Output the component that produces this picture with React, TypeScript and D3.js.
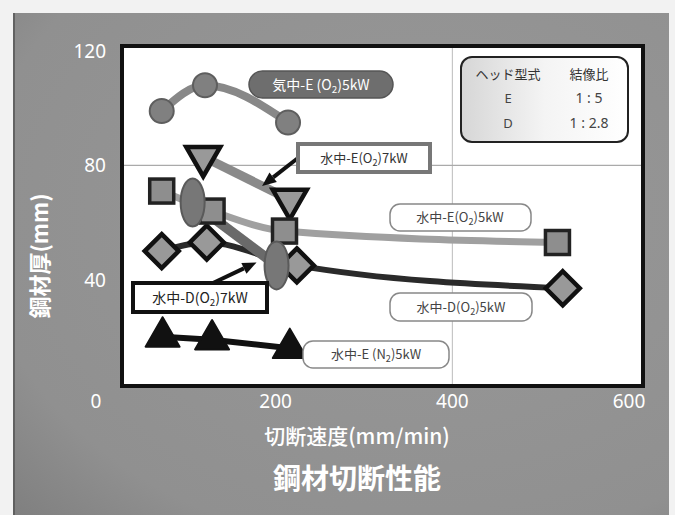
import React from "react";
import * as d3 from "d3";

// Cutting speed (mm/min) vs. steel thickness (mm) for each head / gas / power setting
const airE_O2_5kW: [number, number][] = [[71, 99], [120, 108], [214, 95]];
const waterE_O2_7kW: [number, number][] = [[118, 83], [216, 68]];
const waterE_O2_5kW: [number, number][] = [[71, 71], [128, 64], [210, 57], [519, 53]];
const waterD_O2_7kW: [number, number][] = [[106, 67], [201, 45]];
const waterD_O2_5kW: [number, number][] = [[71, 50], [122, 53], [224, 45], [525, 37]];
const waterE_N2_5kW: [number, number][] = [[72, 20], [128, 19], [216, 16]];

// the shared origin "0" is drawn once, with the y ticks
const xTicks = [200, 400, 600];
const yTicks = [0, 40, 80, 120];

const headTypes = ["E", "D"];
const imageRatios = ["1 : 5", "1 : 2.8"];

const W = 675;
const H = 515;

const x = d3.scaleLinear().domain([0, 600]).range([99, 629]);
const y = d3.scaleLinear().domain([0, 120]).range([394, 51]);

const JP = "'Noto Sans CJK JP', 'Noto Sans', sans-serif";
const SANS = "'Noto Sans', 'DejaVu Sans', sans-serif";

const curved = d3
  .line<[number, number]>()
  .x((d) => x(d[0]))
  .y((d) => y(d[1]))
  .curve(d3.curveMonotoneX);
const straight = d3
  .line<[number, number]>()
  .x((d) => x(d[0]))
  .y((d) => y(d[1]));

function Sub({ children }: { children: React.ReactNode }) {
  return (
    <tspan fontSize="0.7em" dy="3">
      {children}
    </tspan>
  );
}

// label text like 水中-E(O2)7kW with a subscript digit
function GasLabel({ head, gas, power, medium }: { head: string; gas: string; power: string; medium: string }) {
  return (
    <>
      {medium}-{head}({gas}
      <Sub>2</Sub>
      <tspan dy="-3">){power}</tspan>
    </>
  );
}

function Arrow({ x1, y1, x2, y2, w = 4 }: { x1: number; y1: number; x2: number; y2: number; w?: number }) {
  const ang = Math.atan2(y2 - y1, x2 - x1);
  const hl = 14;
  const hw = 6;
  const bx = x2 - hl * Math.cos(ang);
  const by = y2 - hl * Math.sin(ang);
  const px = -Math.sin(ang);
  const py = Math.cos(ang);
  return (
    <g>
      <line x1={x1} y1={y1} x2={bx} y2={by} stroke="#111" strokeWidth={w} />
      <polygon
        points={`${x2},${y2} ${bx + px * hw},${by + py * hw} ${bx - px * hw},${by - py * hw}`}
        fill="#111"
      />
    </g>
  );
}

export default function App() {
  const invTri = (cx: number, cy: number, s = 34) => {
    const h = s * 0.866;
    return `M${cx - s / 2},${cy - h / 3}L${cx + s / 2},${cy - h / 3}L${cx},${cy + (2 * h) / 3}Z`;
  };
  const upTri = (cx: number, cy: number, s = 34) => {
    const h = s * 0.866;
    return `M${cx - s / 2},${cy + h / 3}L${cx + s / 2},${cy + h / 3}L${cx},${cy - (2 * h) / 3}Z`;
  };
  const diamond = (cx: number, cy: number, r = 17) =>
    `M${cx},${cy - r}L${cx + r},${cy}L${cx},${cy + r}L${cx - r},${cy}Z`;

  // arrow targets derived from the series
  const tA = waterE_O2_7kW[0];
  const tB = waterE_O2_7kW[1];
  const arrow1End: [number, number] = [
    x(tA[0]) + 0.68 * (x(tB[0]) - x(tA[0])),
    y(tA[1]) + 0.68 * (y(tB[1]) - y(tA[1])),
  ];
  const e2 = waterD_O2_7kW[1];
  const arrow2End: [number, number] = [x(e2[0]) - 20, y(e2[1]) - 3];

  return (
    <svg
      width={W}
      height={H}
      style={{ position: "absolute", left: 0, top: 0, display: "block" }}
      xmlns="http://www.w3.org/2000/svg"
    >
      <defs>
        <radialGradient id="slide" cx="0.62" cy="0.4" r="0.9">
          <stop offset="0" stopColor="#989898" />
          <stop offset="0.75" stopColor="#909090" />
          <stop offset="1" stopColor="#7c7c7c" />
        </radialGradient>
        <linearGradient id="legendFill" x1="0" x2="1" y1="0" y2="0">
          <stop offset="0" stopColor="#d6d6d6" />
          <stop offset="0.5" stopColor="#f4f4f4" />
          <stop offset="1" stopColor="#fff" />
        </linearGradient>
      </defs>

      {/* page and slide background */}
      <rect x={0} y={0} width={W} height={H} fill="#f2f2f2" />
      <rect x={13} y={13} width={656} height={H - 13} fill="url(#slide)" />
      <line x1={14} y1={13} x2={14} y2={H} stroke="#555" strokeWidth={1.5} />

      {/* plot frame */}
      <rect x={122} y={46} width={521} height={340} fill="#fff" stroke="#111" strokeWidth={4} />
      {/* grid */}
      <line x1={x(400)} x2={x(400)} y1={48} y2={384} stroke="#bbb" strokeWidth={1} />
      <line x1={124} x2={641} y1={y(80)} y2={y(80)} stroke="#aaa" strokeWidth={1.2} />

      {/* tick labels */}
      {yTicks.map((t) => (
        <text
          key={"y" + t}
          x={t === 0 ? 96 : 106}
          y={t === 0 ? 401 : y(t)}
          dy="0.36em"
          textAnchor={t === 0 ? "middle" : "end"}
          fill="#fff"
          fontFamily={SANS}
          fontSize={19}
        >
          {t}
        </text>
      ))}
      {xTicks.map((t) => (
        <text
          key={"x" + t}
          x={x(t)}
          y={401}
          dy="0.36em"
          textAnchor="middle"
          fill="#fff"
          fontFamily={SANS}
          fontSize={19}
        >
          {t}
        </text>
      ))}

      {/* axis titles */}
      <text
        transform="translate(40,256) rotate(-90)"
        textAnchor="middle"
        dy="0.36em"
        fill="#fff"
        fontFamily={JP}
        fontWeight={700}
        fontSize={22}
      >
        鋼材厚(mm)
      </text>
      <text x={357} y={436} dy="0.36em" textAnchor="middle" fill="#fff" fontFamily={JP} fontWeight={500} fontSize={21}>
        切断速度(mm/min)
      </text>
      <text x={357} y={479} dy="0.36em" textAnchor="middle" fill="#fff" fontFamily={JP} fontWeight={700} fontSize={28}>
        鋼材切断性能
      </text>

      {/* lines */}
      <path d={curved(waterE_O2_5kW) ?? ""} fill="none" stroke="#a0a0a0" strokeWidth={7} />
      <path d={curved(airE_O2_5kW) ?? ""} fill="none" stroke="#888" strokeWidth={8} />
      <path d={straight(waterE_O2_7kW) ?? ""} fill="none" stroke="#8a8a8a" strokeWidth={9} />
      <path d={curved(waterD_O2_5kW) ?? ""} fill="none" stroke="#2a2a2a" strokeWidth={6} />
      <path d={straight(waterD_O2_7kW) ?? ""} fill="none" stroke="#6a6a6a" strokeWidth={10} />
      <path d={straight(waterE_N2_5kW) ?? ""} fill="none" stroke="#111" strokeWidth={6} />

      {/* markers */}
      {airE_O2_5kW.map((d, i) => (
        <circle key={"c" + i} cx={x(d[0])} cy={y(d[1])} r={12} fill="#808080" stroke="#5e5e5e" strokeWidth={2} />
      ))}
      {waterE_O2_7kW.map((d, i) => (
        <path key={"it" + i} d={invTri(x(d[0]), y(d[1]))} fill="#999" stroke="#111" strokeWidth={4.5} strokeLinejoin="miter" />
      ))}
      {waterD_O2_5kW.map((d, i) => (
        <path key={"dm" + i} d={diamond(x(d[0]), y(d[1]))} fill="#999" stroke="#111" strokeWidth={4.5} />
      ))}
      {waterE_O2_5kW.map((d, i) => (
        <rect
          key={"sq" + i}
          x={x(d[0]) - 12}
          y={y(d[1]) - 12}
          width={24}
          height={24}
          fill="#8e8e8e"
          stroke="#222"
          strokeWidth={3.5}
        />
      ))}
      {waterD_O2_7kW.map((d, i) => (
        <ellipse key={"el" + i} cx={x(d[0])} cy={y(d[1])} rx={12} ry={24} fill="#777" stroke="#5a5a5a" strokeWidth={2} />
      ))}
      {waterE_N2_5kW.map((d, i) => (
        <path key={"bt" + i} d={upTri(x(d[0]), y(d[1]))} fill="#111" stroke="#111" strokeWidth={2} strokeLinejoin="round" />
      ))}

      {/* arrows from callouts */}
      <Arrow x1={298} y1={158} x2={arrow1End[0]} y2={arrow1End[1]} />
      <Arrow x1={213} y1={283} x2={arrow2End[0]} y2={arrow2End[1]} />

      {/* callouts */}
      <rect x={249} y={71} width={144} height={27} rx={13.5} fill="#6e6e6e" stroke="#555" strokeWidth={1.5} />
      <text x={321} y={84.5} dy="0.36em" textAnchor="middle" fill="#fff" fontFamily={JP} fontSize={14}>
        <GasLabel medium="気中" head="E " gas="O" power="5kW" />
      </text>

      <rect x={298} y={144} width={132} height={28} fill="#fff" stroke="#777" strokeWidth={4} />
      <text x={364} y={158} dy="0.36em" textAnchor="middle" fill="#333" fontFamily={JP} fontSize={13}>
        <GasLabel medium="水中" head="E" gas="O" power="7kW" />
      </text>

      <rect x={390} y={204} width={141} height={27} rx={10} fill="#fff" stroke="#888" strokeWidth={1.5} />
      <text x={460} y={217.5} dy="0.36em" textAnchor="middle" fill="#444" fontFamily={JP} fontSize={13}>
        <GasLabel medium="水中" head="E" gas="O" power="5kW" />
      </text>

      <rect x={133} y={283} width={134} height={29} fill="#fff" stroke="#111" strokeWidth={4} />
      <text x={200} y={297.5} dy="0.36em" textAnchor="middle" fill="#222" fontFamily={JP} fontSize={14}>
        <GasLabel medium="水中" head="D" gas="O" power="7kW" />
      </text>

      <rect x={390} y={293} width={142} height={28} rx={10} fill="#fff" stroke="#888" strokeWidth={1.5} />
      <text x={461} y={307} dy="0.36em" textAnchor="middle" fill="#444" fontFamily={JP} fontSize={13}>
        <GasLabel medium="水中" head="D" gas="O" power="5kW" />
      </text>

      <rect x={303} y={341} width={146} height={27} rx={10} fill="#fff" stroke="#888" strokeWidth={1.5} />
      <text x={376} y={354.5} dy="0.36em" textAnchor="middle" fill="#444" fontFamily={JP} fontSize={13}>
        <GasLabel medium="水中" head="E " gas="N" power="5kW" />
      </text>

      {/* head type / image ratio table */}
      <rect x={461} y={57} width={167} height={85} rx={11} fill="url(#legendFill)" stroke="#222" strokeWidth={2} />
      <text x={508} y={74} dy="0.36em" textAnchor="middle" fill="#333" fontFamily={JP} fontSize={13}>
        ヘッド型式
      </text>
      <text x={589} y={74} dy="0.36em" textAnchor="middle" fill="#333" fontFamily={JP} fontSize={13}>
        結像比
      </text>
      {headTypes.map((h, i) => (
        <g key={h}>
          <text x={508} y={98 + i * 25} dy="0.36em" textAnchor="middle" fill="#444" fontFamily={SANS} fontSize={13}>
            {h}
          </text>
          <text x={589} y={98 + i * 25} dy="0.36em" textAnchor="middle" fill="#444" fontFamily={SANS} fontSize={14}>
            {imageRatios[i]}
          </text>
        </g>
      ))}
    </svg>
  );
}
